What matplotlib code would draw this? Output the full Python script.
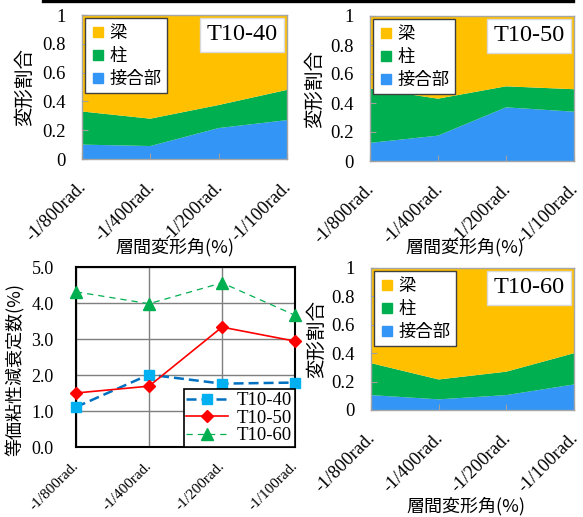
import matplotlib
matplotlib.use("Agg")
import matplotlib.pyplot as plt
import matplotlib.transforms as mtransforms
from matplotlib.lines import Line2D
from matplotlib.ticker import FuncFormatter

# Data
drift_labels = ["-1/800rad.", "-1/400rad.", "-1/200rad.", "-1/100rad."]
xpos = [0, 1, 2, 3]

# deformation share (joint / column / beam)
t40_joint = [0.10, 0.09, 0.215, 0.27]
t40_column = [0.23, 0.19, 0.16, 0.21]
t40_beam = [0.67, 0.72, 0.625, 0.52]

t50_joint = [0.125, 0.175, 0.37, 0.34]
t50_column = [0.375, 0.255, 0.145, 0.155]
t50_beam = [0.50, 0.57, 0.485, 0.505]

t60_joint = [0.105, 0.075, 0.105, 0.18]
t60_column = [0.225, 0.14, 0.165, 0.22]
t60_beam = [0.67, 0.785, 0.73, 0.60]

# equivalent viscous damping (%)
damp_t40 = [1.11, 2.01, 1.76, 1.79]
damp_t50 = [1.50, 1.69, 3.33, 2.94]
damp_t60 = [4.31, 3.98, 4.56, 3.66]

plt.rcParams["font.family"] = ["Liberation Serif", "Noto Sans CJK JP"]
JP = ["Noto Sans CJK JP", "DejaVu Sans"]
C_BEAM = "#FFC000"
C_COL = "#00B050"
C_JOINT = "#3395F5"

fig = plt.figure(figsize=(5.83, 5.17), dpi=100)


def px_axes(x0, y0, x1, y1):
    W, H = 583, 517
    return fig.add_axes([x0 / W, 1 - y1 / H, (x1 - x0) / W, (y1 - y0) / H])


def nudge_xticklabels(ax, dx_px):
    shift = mtransforms.ScaledTranslation(dx_px / fig.dpi, 0, fig.dpi_scale_trans)
    for lab in ax.get_xticklabels():
        lab.set_transform(lab.get_transform() + shift)


def share_plot(ax, joint, column, beam, name, xlab_pos, ylab_x):
    ax.stackplot(xpos, joint, column, beam, colors=[C_JOINT, C_COL, C_BEAM],
                 linewidth=0)
    ax.set_xlim(0, 3)
    ax.set_ylim(0, 1)
    ax.tick_params(axis="x", direction="in", length=4, color="#a0a0a0",
                   pad=14, labelsize=13.3)
    ax.tick_params(axis="y", direction="in", length=4, color="#a0a0a0",
                   pad=12, labelsize=13.5)
    ax.set_yticks([0, 0.2, 0.4, 0.6, 0.8, 1.0])
    ax.yaxis.set_major_formatter(FuncFormatter(lambda v, p: f"{v:g}"))
    ax.set_xticks(xpos)
    ax.set_xticklabels(drift_labels, rotation=45, ha="right", va="top",
                       rotation_mode="anchor")
    nudge_xticklabels(ax, -4)
    for s in ax.spines.values():
        s.set_color("#a6a6a6")
        s.set_linewidth(1.0)
    ax.set_axisbelow(False)
    ax.set_ylabel("変形割合", family=JP, fontsize=14)
    ax.yaxis.set_label_coords(ylab_x, 0.5)
    ax.set_xlabel("層間変形角(%)", family=JP, fontsize=13)
    ax.xaxis.set_label_coords(*xlab_pos)
    handles = [Line2D([], [], ls="none", marker="s", ms=7, color=c)
               for c in (C_BEAM, C_COL, C_JOINT)]
    leg = ax.legend(handles, ["梁", "柱", "接合部"], loc="upper left",
                    prop={"family": JP, "size": 12.5}, fancybox=False,
                    framealpha=1, edgecolor="#404040", borderaxespad=0.2,
                    handlelength=0.8, handletextpad=0.3, labelspacing=0.3,
                    borderpad=0.3)
    leg.get_frame().set_linewidth(1.0)
    ax.text(0.955, 0.935, name, transform=ax.transAxes, ha="right", va="top",
            fontsize=17.5,
            bbox=dict(boxstyle="square,pad=0.27", fc="white", ec="#d9d9d9", lw=1))


ax1 = px_axes(82, 15, 287, 159)
share_plot(ax1, t40_joint, t40_column, t40_beam, "T10-40", (0.454, -0.55), -0.23)

ax2 = px_axes(370, 16, 574, 161)
share_plot(ax2, t50_joint, t50_column, t50_beam, "T10-50", (0.466, -0.53), -0.22)

ax4 = px_axes(371, 268, 574, 410)
share_plot(ax4, t60_joint, t60_column, t60_beam, "T10-60", (0.468, -0.61), -0.217)

# damping line chart
ax3 = px_axes(76, 267, 295, 447)
ax3.plot(xpos, damp_t40, color="#0070C0", lw=1.8, dashes=(4, 2),
         marker="s", ms=7, mfc="#00B0F0", mec="#00B0F0", clip_on=False,
         label="T10-40", zorder=4)
ax3.plot(xpos, damp_t50, color="#FF0000", lw=1.2, marker="D", ms=6.5,
         mfc="#FF0000", mec="#FF0000", clip_on=False, label="T10-50", zorder=4)
ax3.plot(xpos, damp_t60, color="#00B050", lw=0.9, dashes=(5, 4),
         marker="^", ms=8.5, mfc="#00B050", mec="#00B050", clip_on=False,
         label="T10-60", zorder=4)
ax3.set_xlim(0, 3)
ax3.set_ylim(0, 5)
ax3.tick_params(axis="x", length=0, pad=9, labelsize=11)
ax3.tick_params(axis="y", length=0, pad=16, labelsize=13)
ax3.set_yticks([0, 1, 2, 3, 4, 5])
ax3.yaxis.set_major_formatter(FuncFormatter(lambda v, p: f"{v:.1f}"))
ax3.set_xticks(xpos)
ax3.set_xticklabels(drift_labels, rotation=45, ha="right", va="top",
                    rotation_mode="anchor")
nudge_xticklabels(ax3, -4)
ax3.grid(True, color="#7f7f7f", lw=1.0)
for s in ax3.spines.values():
    s.set_color("black")
    s.set_linewidth(1.5)
ax3.set_ylabel("等価粘性減衰定数(%)", family=JP, fontsize=13)
ax3.yaxis.set_label_coords(-0.235, 0.43)
leg3 = ax3.legend(loc="lower right", prop={"size": 13.5}, fancybox=False,
                  framealpha=1, edgecolor="black", borderaxespad=0,
                  handlelength=2.2, handletextpad=0.5, labelspacing=0.02,
                  borderpad=0.15)
leg3.get_frame().set_linewidth(1.2)

# rule across the top
fig.add_artist(Line2D([43 / 583, 573 / 583], [1 - 1.2 / 517] * 2,
                      color="black", lw=2.4, transform=fig.transFigure))

fig.savefig("out.png", dpi=100)
